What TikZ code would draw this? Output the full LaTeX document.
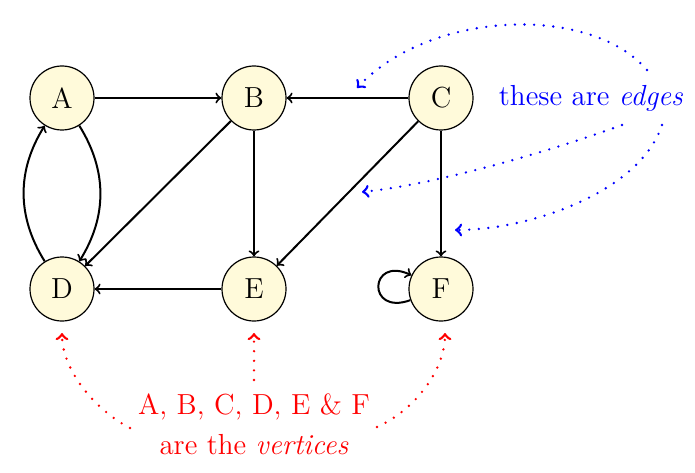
\documentclass[tikz,border=0pt]{standalone}
\begin{document}
\begin{tikzpicture}[x=0.5pt,y=0.5pt,
  vtx/.style={circle,draw=black,line width=0.6pt,fill=nodefill,minimum size=32pt,inner sep=0pt,font=\fontsize{14.5}{20}\selectfont},
  arc/.style={->,line width=1pt},
  dotarrow/.style={->,line width=1.3pt,dash pattern=on 0pt off 4.8pt,line cap=round},
  lbl/.style={font=\fontsize{14.5}{20}\selectfont,align=center,inner sep=0pt}]
\definecolor{nodefill}{RGB}{255,250,218}
\useasboundingbox (0,0) rectangle (695,472);
\node[vtx] (A) at (62,374) {A};
\node[vtx] (B) at (254,374) {B};
\node[vtx] (C) at (441,374) {C};
\node[vtx] (D) at (62,183) {D};
\node[vtx] (E) at (254,183) {E};
\node[vtx] (F) at (441,183) {F};
\draw[arc] (A) -- (B);
\draw[arc] (C) -- (B);
\draw[arc] (B) -- (D);
\draw[arc] (B) -- (E);
\draw[arc] (C) -- (E);
\draw[arc] (C) -- (F);
\draw[arc] (E) -- (D);
\draw[arc] (A) to[bend left=32] (D);
\draw[arc] (D) to[bend left=32] (A);
\draw[arc] (F) to[out=200,in=155,looseness=4.8] (F);
% edges label
\node[lbl,text=blue] (edg) at (591,374) {these are \textit{edges}};
\coordinate (b1s) at (647,402);
\coordinate (b1e) at (357,384);
\coordinate (b2s) at (622,347);
\coordinate (b2e) at (362,280);
\coordinate (b3s) at (662,347);
\coordinate (b3e) at (455,242);
\draw[dotarrow,blue] (b1s) .. controls (590,468) and (430,462) .. (b1e);
\draw[dotarrow,blue] (b2s) .. controls (540,317) and (430,287) .. (b2e);
\draw[dotarrow,blue] (b3s) .. controls (640,280) and (530,242) .. (b3e);
% vertices label
\node[lbl,text=red] (vert) at (254,48) {A, B, C, D, E \& F\\are the \textit{vertices}};
\coordinate (r1s) at (130,44);
\coordinate (r1e) at (62,139);
\coordinate (r2s) at (254,92);
\coordinate (r2e) at (254,139);
\coordinate (r3s) at (377,45);
\coordinate (r3e) at (445,139);
\draw[dotarrow,red] (r1s) .. controls (95,62) and (62,102) .. (r1e);
\draw[dotarrow,red] (r2s) -- (r2e);
\draw[dotarrow,red] (r3s) .. controls (415,62) and (445,102) .. (r3e);
\end{tikzpicture}
\end{document}
